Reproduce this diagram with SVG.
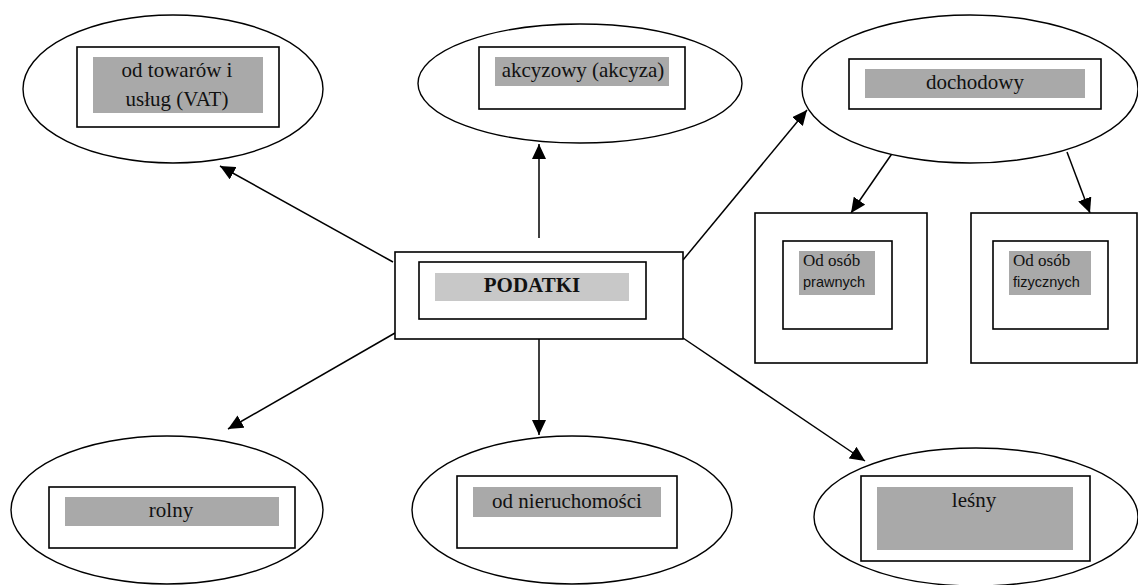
<svg xmlns="http://www.w3.org/2000/svg" width="1138" height="585" viewBox="0 0 1138 585">
<style>
.ell{fill:#fff;stroke:#000;stroke-width:1.4}
.box{fill:#fff;stroke:#000;stroke-width:1.6}
.g{fill:#a9a9a9}
.g2{fill:#c8c8c8}
.t{font-family:"Liberation Serif","Times New Roman",serif;font-size:21px;fill:#111;text-anchor:middle}
.s{font-family:"Liberation Serif","Times New Roman",serif;font-size:17px;fill:#111}
.ss{font-family:"Liberation Sans",Arial,sans-serif;font-size:14.5px;fill:#111}
.c{stroke:#000;stroke-width:1.5;fill:none;marker-end:url(#ah)}
</style>
<defs>
<marker id="ah" markerUnits="userSpaceOnUse" markerWidth="16" markerHeight="14" refX="15" refY="7" orient="auto">
<path d="M0,0 L15,7 L0,14 z" fill="#000"/>
</marker>
</defs>
<rect width="1138" height="585" fill="#fff"/>
<g id="connectors">
<line class="c" x1="393" y1="262" x2="220" y2="166"/>
<line class="c" x1="539" y1="238" x2="539" y2="144"/>
<line class="c" x1="683" y1="260" x2="807" y2="110"/>
<line class="c" x1="900" y1="142" x2="851" y2="213"/>
<line class="c" x1="1067" y1="152" x2="1090" y2="213"/>
<line class="c" x1="395" y1="333" x2="228" y2="429"/>
<line class="c" x1="539" y1="339" x2="539" y2="435"/>
<line class="c" x1="683" y1="338" x2="865" y2="461"/>
</g>
<g id="vat">
<ellipse class="ell" cx="173" cy="89" rx="150" ry="74"/>
<rect class="box" x="77" y="47" width="202" height="80"/>
<rect class="g" x="93" y="57" width="170" height="56"/>
<text class="t" x="177" y="77">od towarów i</text>
<text class="t" x="177" y="106">usług (VAT)</text>
</g>
<g id="akcyza">
<ellipse class="ell" cx="580" cy="83.5" rx="162" ry="59.5"/>
<rect class="box" x="479" y="47" width="206" height="62"/>
<rect class="g" x="495" y="57" width="174" height="29"/>
<text class="t" x="583" y="77">akcyzowy (akcyza)</text>
</g>
<g id="dochodowy">
<ellipse class="ell" cx="970" cy="89" rx="168" ry="74"/>
<rect class="box" x="849" y="59" width="252" height="50"/>
<rect class="g" x="865" y="69" width="220" height="29"/>
<text class="t" x="975" y="89">dochodowy</text>
</g>
<g id="prawne">
<rect class="box" x="755" y="213" width="172" height="150"/>
<rect class="box" x="783" y="241" width="109" height="88"/>
<rect class="g" x="799" y="251" width="76" height="44"/>
<text class="s" x="803" y="266">Od osób</text>
<text class="ss" x="803" y="287">prawnych</text>
</g>
<g id="fizyczne">
<rect class="box" x="971" y="213" width="166" height="150"/>
<rect class="box" x="993" y="241" width="115" height="88"/>
<rect class="g" x="1009" y="251" width="82" height="44"/>
<text class="s" x="1013" y="266">Od osób</text>
<text class="ss" x="1013" y="287">fizycznych</text>
</g>
<g id="podatki">
<rect class="box" x="395" y="252" width="288" height="87"/>
<rect class="box" x="419" y="262" width="227" height="57"/>
<rect class="g2" x="435" y="273" width="194" height="28"/>
<text class="t" x="532" y="292" font-weight="bold">PODATKI</text>
</g>
<g id="rolny">
<ellipse class="ell" cx="167" cy="510" rx="156" ry="74"/>
<rect class="box" x="49" y="487" width="246" height="61"/>
<rect class="g" x="65" y="497" width="214" height="29"/>
<text class="t" x="171" y="517">rolny</text>
</g>
<g id="nieruchomosci">
<ellipse class="ell" cx="572" cy="510" rx="160" ry="74"/>
<rect class="box" x="457" y="476" width="220" height="72"/>
<rect class="g" x="473" y="487" width="188" height="30"/>
<text class="t" x="567" y="508">od nieruchomości</text>
</g>
<g id="lesny">
<ellipse class="ell" cx="976" cy="517" rx="162" ry="69"/>
<rect class="box" x="861" y="476" width="229" height="85"/>
<rect class="g" x="877" y="487" width="196" height="63"/>
<text class="t" x="974" y="507">leśny</text>
</g>
</svg>
